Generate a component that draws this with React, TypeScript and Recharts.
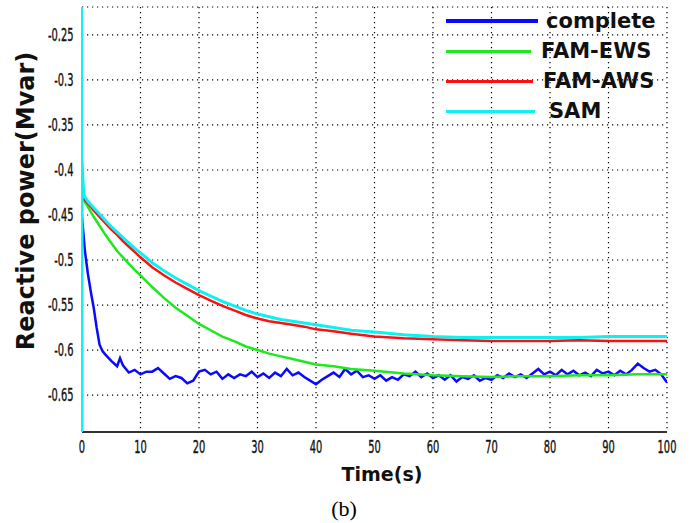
import React from 'react';
import { LineChart, Line, XAxis, YAxis, CartesianGrid } from 'recharts';

// time (s) / reactive power (Mvar)
const timeTicks = [0, 10, 20, 30, 40, 50, 60, 70, 80, 90, 100];
const powerTicks = [-0.65, -0.6, -0.55, -0.5, -0.45, -0.4, -0.35, -0.3, -0.25];
const powerTickLabels = ['-0.65', '-0.6', '-0.55', '-0.5', '-0.45', '-0.4', '-0.35', '-0.3', '-0.25'];

const completeSeries = [
  [0, -0.452], [0.5, -0.49], [1, -0.515], [1.5, -0.535], [2, -0.553], [2.5, -0.575], [3, -0.594], [3.5, -0.601],
  [4, -0.605], [5, -0.612], [6, -0.618], [6.5, -0.609], [7, -0.617], [8, -0.625], [9, -0.622], [10, -0.627],
  [11, -0.624], [12, -0.624], [13, -0.62], [14, -0.626], [15, -0.632], [16, -0.629], [17, -0.631], [18, -0.637],
  [19, -0.634], [20, -0.624], [21, -0.622], [22, -0.627], [23, -0.624], [24, -0.632], [25, -0.627], [26, -0.631],
  [27, -0.627], [28, -0.629], [29, -0.624], [30, -0.63], [31, -0.626], [32, -0.631], [33, -0.625], [34, -0.629],
  [35, -0.621], [36, -0.628], [37, -0.625], [38, -0.63], [39, -0.634], [40, -0.638], [41, -0.633], [42, -0.629],
  [43, -0.625], [44, -0.63], [45, -0.621], [46, -0.627], [47, -0.623], [48, -0.63], [49, -0.628], [50, -0.632],
  [51, -0.628], [52, -0.634], [53, -0.63], [54, -0.633], [55, -0.627], [56, -0.629], [57, -0.624], [58, -0.63],
  [59, -0.626], [60, -0.631], [61, -0.628], [62, -0.633], [63, -0.628], [64, -0.635], [65, -0.63], [66, -0.632],
  [67, -0.628], [68, -0.634], [69, -0.631], [70, -0.633], [71, -0.628], [72, -0.631], [73, -0.626], [74, -0.63],
  [75, -0.627], [76, -0.631], [77, -0.626], [78, -0.621], [79, -0.627], [80, -0.624], [81, -0.628], [82, -0.622],
  [83, -0.627], [84, -0.623], [85, -0.628], [86, -0.625], [87, -0.629], [88, -0.622], [89, -0.626], [90, -0.624],
  [91, -0.628], [92, -0.623], [93, -0.627], [94, -0.622], [95, -0.615], [96, -0.62], [97, -0.624], [98, -0.622],
  [99, -0.627], [100, -0.636],
];

const famEwsSeries = [
  [0, -0.43], [1, -0.441], [2, -0.452], [3, -0.462], [4, -0.472], [5, -0.481], [6, -0.49], [7, -0.497],
  [8, -0.504], [9, -0.511], [10, -0.517], [12, -0.53], [14, -0.542], [16, -0.553], [18, -0.562], [20, -0.571],
  [22, -0.578], [24, -0.585], [26, -0.59], [28, -0.596], [30, -0.6], [32, -0.604], [34, -0.607], [36, -0.61],
  [38, -0.613], [40, -0.616], [43, -0.618], [46, -0.621], [50, -0.623], [55, -0.626], [60, -0.628], [65, -0.629],
  [70, -0.63], [75, -0.629], [80, -0.629], [85, -0.628], [90, -0.628], [95, -0.627], [100, -0.627],
];

const famAwsSeries = [
  [0, -0.43], [1, -0.437], [2, -0.445], [3, -0.452], [4, -0.459], [5, -0.466], [6, -0.472], [7, -0.479],
  [8, -0.485], [9, -0.491], [10, -0.497], [12, -0.508], [14, -0.517], [16, -0.525], [18, -0.532], [20, -0.539],
  [22, -0.545], [24, -0.551], [26, -0.556], [28, -0.561], [30, -0.565], [32, -0.568], [34, -0.57], [36, -0.572],
  [38, -0.574], [40, -0.577], [43, -0.579], [46, -0.582], [50, -0.585], [55, -0.587], [60, -0.588], [65, -0.589],
  [70, -0.59], [75, -0.59], [80, -0.59], [85, -0.589], [90, -0.59], [95, -0.59], [100, -0.59],
];

const samSeries = [
  [0, -0.7], [0, -0.389], [0.3, -0.428], [1, -0.435], [2, -0.442], [3, -0.449], [4, -0.456], [5, -0.463],
  [6, -0.469], [7, -0.475], [8, -0.481], [9, -0.487], [10, -0.492], [12, -0.503], [14, -0.512], [16, -0.52],
  [18, -0.527], [20, -0.534], [22, -0.54], [24, -0.546], [26, -0.551], [28, -0.556], [30, -0.56], [32, -0.563],
  [34, -0.566], [36, -0.568], [38, -0.57], [40, -0.572], [43, -0.575], [46, -0.578], [50, -0.58], [55, -0.583],
  [60, -0.585], [65, -0.586], [70, -0.586], [75, -0.586], [80, -0.586], [85, -0.586], [90, -0.585], [95, -0.585],
  [100, -0.585],
];

const seriesNames = ['complete', 'FAM-EWS', 'FAM-AWS', 'SAM'];

const toPoints = (rows: number[][]) => rows.map(([t, q]) => ({ t, q }));

const lines = [
  { name: seriesNames[0], data: toPoints(completeSeries), color: '#0a0aff', width: 2.5, legendW: 92, legendH: 4, gap: 8 },
  { name: seriesNames[1], data: toPoints(famEwsSeries), color: '#1ee81e', width: 2.5, legendW: 85, legendH: 3, gap: 10 },
  { name: seriesNames[2], data: toPoints(famAwsSeries), color: '#ff1010', width: 2.5, legendW: 87, legendH: 3, gap: 10 },
  { name: seriesNames[3], data: toPoints(samSeries), color: '#10f0f0', width: 3, legendW: 89, legendH: 3, gap: 14 },
];

// narrow, tall tick text like the original export
const renderTick = (axis: 'x' | 'y') => (props: any) => {
  const { x, y, payload } = props;
  const label = axis === 'y'
    ? powerTickLabels[powerTicks.indexOf(payload.value)] ?? String(payload.value)
    : String(payload.value);
  const dy = axis === 'y' ? 6 : 19;
  return (
    <g transform={`translate(${x},${y + dy}) scale(0.58,1)`}>
      <text x={0} y={0} textAnchor={axis === 'y' ? 'end' : 'middle'} fontFamily='"DejaVu Sans", sans-serif'
        fontSize={17} fill="#111" stroke="#111" strokeWidth={0.4}>
        {label}
      </text>
    </g>
  );
};

const ChartLegend = () => (
  <div
    style={{
      position: 'absolute', left: 446, top: 6, fontFamily: '"DejaVu Sans", sans-serif',
      fontWeight: 'bold', fontSize: 21, color: '#111', pointerEvents: 'none',
    }}
  >
    {lines.map((l) => (
      <div key={l.name} style={{ display: 'flex', alignItems: 'center', height: 30 }}>
        <div style={{ width: l.legendW, height: l.legendH, background: l.color }} />
        <span style={{ marginLeft: l.gap, whiteSpace: 'nowrap' }}>{l.name}</span>
      </div>
    ))}
  </div>
);

const App: React.FC = () => {
  return (
    <div style={{ position: 'absolute', left: 0, top: 0, width: 691, height: 523, background: '#fff' }}>
      <LineChart width={691} height={523} margin={{ top: 7, right: 24, bottom: 61, left: 10 }}>
        <CartesianGrid stroke="#000" strokeWidth={1.2} strokeDasharray="1.2 3.8" />
        <XAxis
          dataKey="t"
          type="number"
          domain={[0, 100]}
          ticks={timeTicks}
          allowDataOverflow
          height={30}
          axisLine={{ stroke: '#333', strokeWidth: 2 }}
          tickLine={false}
          tickSize={0}
          tick={renderTick('x')}
          tickMargin={2}
        />
        <XAxis xAxisId="tk" dataKey="t" type="number" domain={[0, 100]} ticks={timeTicks} mirror height={0}
          axisLine={false} tick={false} tickSize={5} tickLine={{ stroke: '#333' }} />
        <XAxis xAxisId="top" orientation="top" dataKey="t" type="number" domain={[0, 100]} height={0}
          axisLine={{ stroke: '#333', strokeWidth: 2 }} tick={false} tickLine={false} />
        <YAxis
          type="number"
          domain={[-0.691, -0.219]}
          ticks={powerTicks}
          allowDataOverflow
          width={72}
          axisLine={{ stroke: '#10f0f0', strokeWidth: 2 }}
          tickLine={false}
          tickSize={0}
          tick={renderTick('y')}
          tickMargin={8.5}
        />
        <YAxis yAxisId="l" type="number" domain={[-0.691, -0.219]} ticks={powerTicks}
          allowDataOverflow mirror width={0} axisLine={false} tick={false}
          tickSize={5} tickLine={{ stroke: '#333' }} />
        <YAxis yAxisId="r" orientation="right" type="number" domain={[-0.691, -0.219]} ticks={powerTicks}
          allowDataOverflow mirror width={0} axisLine={{ stroke: '#333', strokeWidth: 2 }} tick={false}
          tickSize={5} tickLine={{ stroke: '#333' }} />
        {lines.map((l) => (
          <Line
            key={l.name}
            name={l.name}
            data={l.data}
            dataKey="q"
            stroke={l.color}
            strokeWidth={l.width}
            dot={false}
            activeDot={false}
            isAnimationActive={false}
          />
        ))}
      </LineChart>
      <ChartLegend />
      <svg width={691} height={523} style={{ position: 'absolute', left: 0, top: 0, pointerEvents: 'none' }}>
        <text
          x={34}
          y={201}
          transform="rotate(-90, 34, 201)"
          textAnchor="middle"
          fontFamily='"DejaVu Sans", sans-serif'
          fontWeight="bold"
          fontSize={24}
          fill="#111"
        >
          Reactive power(Mvar)
        </text>
        <text x={382} y={481} textAnchor="middle" fontFamily='"DejaVu Sans", sans-serif' fontWeight="bold" fontSize={19} fill="#111">
          Time(s)
        </text>
        <text x={344} y={516} textAnchor="middle" fontFamily='"Liberation Serif", serif' fontSize={22} fill="#000">
          (b)
        </text>
      </svg>
    </div>
  );
};

export default App;
